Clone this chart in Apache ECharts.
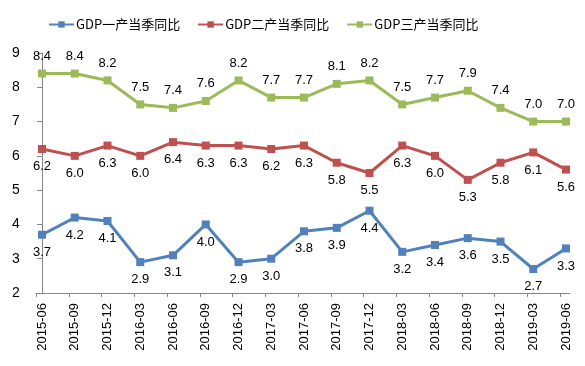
<!DOCTYPE html>
<html><head><meta charset="utf-8">
<script src="https://cdn.jsdelivr.net/npm/echarts@6/dist/echarts.min.js"></script>
<style>html,body{margin:0;padding:0;background:#fff}#c{width:585px;height:366px}</style>
</head><body><div id="c"></div>
<script>
var categories = ['2015-06','2015-09','2015-12','2016-03','2016-06','2016-09','2016-12','2017-03','2017-06','2017-09','2017-12','2018-03','2018-06','2018-09','2018-12','2019-03','2019-06'];
var primary = [3.7,4.2,4.1,2.9,3.1,4.0,2.9,3.0,3.8,3.9,4.4,3.2,3.4,3.6,3.5,2.7,3.3];
var secondary = [6.2,6.0,6.3,6.0,6.4,6.3,6.3,6.2,6.3,5.8,5.5,6.3,6.0,5.3,5.8,6.1,5.6];
var tertiary = [8.4,8.4,8.2,7.5,7.4,7.6,8.2,7.7,7.7,8.1,8.2,7.5,7.7,7.9,7.4,7.0,7.0];
var names = ['GDP一产当季同比','GDP二产当季同比','GDP三产当季同比'];
var yTicks = [2,3,4,5,6,7,8,9];

var tickShift = 6/32.75;
var pts = function(arr){return arr.map(function(v,i){return [i,v];});};
var labelFont = {fontFamily:'Liberation Sans', fontSize:13, color:'#000'};
function mk(name, data, color, pos){
  return {
    name:name, type:'line', data:pts(data), symbol:'rect', symbolSize:8,
    lineStyle:{width:3,color:color}, itemStyle:{color:color},
    label:Object.assign({show:true, position:pos, distance:7, formatter:function(p){return p.value[1].toFixed(1);}}, labelFont),
    emphasis:{disabled:true}, animation:false
  };
}
var chart = echarts.init(document.getElementById('c'));
chart.setOption({
  animation:false,
  textStyle:{fontFamily:'Liberation Sans, Noto Sans CJK SC'},
  legend:{top:13, left:43, itemWidth:25, itemHeight:8, itemGap:17,
    textStyle:{fontFamily:'Noto Sans CJK SC', fontSize:13, color:'#000', padding:[0,0,0,-3]},
    data:names},
  grid:{left:36, right:15, top:53, bottom:73},
  xAxis:{type:'value', min:-tickShift, max:16+4/32.75,
    splitLine:{show:false},
    axisLine:{lineStyle:{color:'#868686'}},
    axisTick:{show:true, length:4, lineStyle:{color:'#868686'},
      customValues:categories.map(function(c,i){return i-tickShift;})},
    axisLabel:Object.assign({rotate:90, margin:10,
      customValues:categories.map(function(c,i){return i;}),
      formatter:function(v){return categories[Math.round(v)];}}, labelFont)
  },
  yAxis:{type:'value', min:yTicks[0], max:yTicks[yTicks.length-1], interval:1,
    splitLine:{show:false},
    axisLine:{show:true, lineStyle:{color:'#868686'}},
    axisTick:{show:true, length:5, lineStyle:{color:'#868686'}},
    axisLabel:Object.assign({margin:20, align:'center'}, labelFont, {fontSize:14})
  },
  series:[
    mk(names[0], primary, '#4F81BD', 'bottom'),
    mk(names[1], secondary, '#C0504D', 'bottom'),
    mk(names[2], tertiary, '#9BBB59', 'top')
  ]
});
</script></body></html>
